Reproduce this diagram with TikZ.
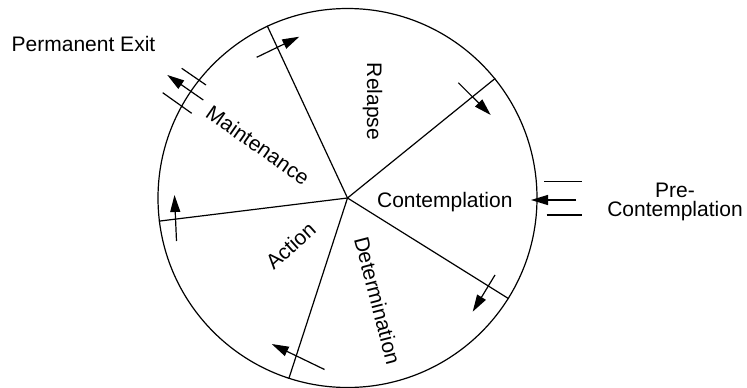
\documentclass[tikz,border=0pt]{standalone}
\usepackage{fontspec}
\setmainfont{Liberation Sans}
\usetikzlibrary{arrows.meta}
\begin{document}
\begin{tikzpicture}[x=1pt,y=-1pt,
  wheel/.style={circle, draw, line width=1.2pt, minimum size=379pt, inner sep=0pt},
  divider/.style={line width=1.2pt},
  flow/.style={line width=1.2pt, -{Triangle[length=17pt,width=10pt]}},
  gate/.style={line width=1.2pt},
  lbl/.style={font=\fontsize{21}{19}\selectfont, inner sep=0pt}]
\useasboundingbox (0,0) rectangle (747,388);
\coordinate (c) at (347.5,198);
\node[wheel] (w) at (c) {};
% sector dividers
\draw[divider] (c) -- (w.115.4);
\draw[divider] (c) -- (w.39.9);
\draw[divider] (c) -- (w.-32.3);
\draw[divider] (c) -- (w.-108.4);
\draw[divider] (c) -- (w.-173.0);
% flow arrows between stages
\coordinate (a1s) at (256.7,57.3);  \coordinate (a1e) at (299.3,36.7);
\coordinate (a2s) at (458.3,82.7);  \coordinate (a2e) at (490.7,115);
\coordinate (a3s) at (495,275);     \coordinate (a3e) at (472.7,311.7);
\coordinate (a4s) at (324.5,369.5); \coordinate (a4e) at (271.7,344);
\coordinate (a5s) at (176.5,241);   \coordinate (a5e) at (174.5,195);
\draw[flow] (a1s) -- (a1e);
\draw[flow] (a2s) -- (a2e);
\draw[flow] (a3s) -- (a3e);
\draw[flow] (a4s) -- (a4e);
\draw[flow] (a5s) -- (a5e);
% permanent exit channel
\coordinate (x1a) at (181.7,68.3);  \coordinate (x1b) at (206,85);
\coordinate (x2a) at (162.7,92.7);  \coordinate (x2b) at (191.7,113.3);
\coordinate (xs) at (203.3,100);    \coordinate (xe) at (167.3,75);
\draw[gate] (x1a) -- (x1b);
\draw[gate] (x2a) -- (x2b);
\draw[flow] (xs) -- (xe);
% pre-contemplation entry channel
\coordinate (p1a) at (544,181.7);   \coordinate (p1b) at (581.7,181.7);
\coordinate (p2a) at (546.7,215);   \coordinate (p2b) at (581.7,215);
\coordinate (ps) at (576,200);      \coordinate (pe) at (531,200);
\draw[gate] (p1a) -- (p1b);
\draw[gate] (p2a) -- (p2b);
\draw[flow] (ps) -- (pe);
% labels
\node[lbl, anchor=base] (perm) at (83.5,51.7) {Permanent Exit};
\node[lbl, anchor=base, rotate=-90] (relapse) at (367,101.5) {Relapse};
\node[lbl, anchor=base, rotate=-35] (maint) at (253.7,151.3) {Maintenance};
\node[lbl, anchor=base] (contemp) at (444.8,207.5) {Contemplation};
\node[lbl, anchor=base, rotate=-75.4] (determ) at (370.4,302.4) {Determination};
\node[lbl, anchor=base, rotate=42] (action) at (295.6,251.1) {Action};
\node[lbl, align=center] (pre) at (675,202) {Pre-\\Contemplation};
\end{tikzpicture}
\end{document}
